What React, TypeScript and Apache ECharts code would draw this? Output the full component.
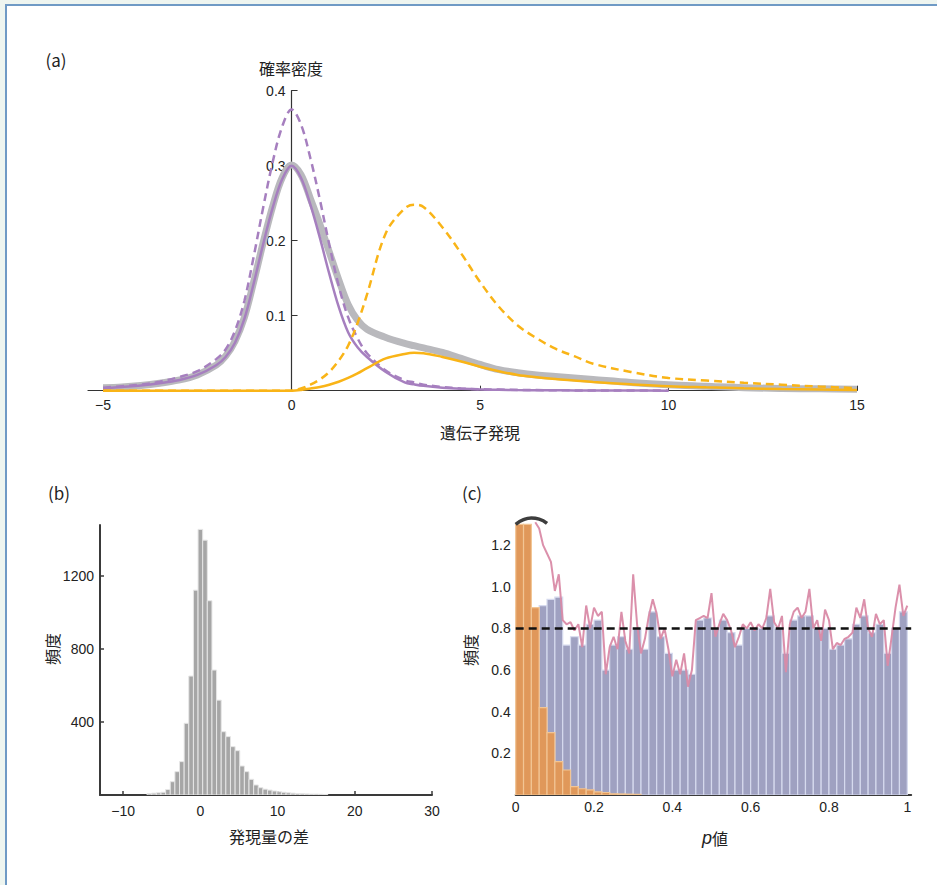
import React, { useEffect, useRef } from "react";
import * as echarts from "echarts";

const NUM_FONT = "'Liberation Sans', Arial, sans-serif";
const JP_FONT = "'Noto Sans CJK JP', 'Noto Sans', sans-serif";
const TXT = "#222";

// ---------- Panel (a): densities ----------
const aX = [-5, -4.5, -4, -3.5, -3, -2.5, -2, -1.75, -1.5, -1.25, -1, -0.75, -0.5, -0.25, 0, 0.25, 0.5, 0.75, 1, 1.25, 1.5, 1.75, 2, 2.5, 3, 3.25, 3.5, 4, 4.5, 5, 5.5, 6, 6.5, 7, 7.5, 8, 9, 10, 11, 12, 13, 14, 15];
const aMixture = [0.004, 0.005, 0.007, 0.01, 0.014, 0.021, 0.034, 0.046, 0.066, 0.098, 0.146, 0.198, 0.246, 0.284, 0.301, 0.288, 0.256, 0.222, 0.185, 0.148, 0.115, 0.094, 0.082, 0.071, 0.063, 0.06, 0.057, 0.051, 0.043, 0.035, 0.028, 0.024, 0.021, 0.019, 0.017, 0.015, 0.011, 0.008, 0.006, 0.004, 0.003, 0.0025, 0.002];
const aNullScaled = [0.003, 0.005, 0.007, 0.01, 0.014, 0.021, 0.034, 0.045, 0.064, 0.096, 0.144, 0.196, 0.244, 0.282, 0.3, 0.284, 0.248, 0.204, 0.156, 0.112, 0.078, 0.058, 0.045, 0.025, 0.011, 0.0085, 0.0065, 0.004, 0.0025, 0.0016, 0.0012, 0.0008, 0.0006, 0.0005, 0.0004, 0.0003, 0.0002, 0.0001, null, null, null, null, null];
const aNullDensity = [0.004, 0.006, 0.008, 0.012, 0.018, 0.026, 0.042, 0.055, 0.08, 0.12, 0.18, 0.245, 0.305, 0.352, 0.375, 0.355, 0.31, 0.255, 0.195, 0.14, 0.098, 0.07, 0.05, 0.027, 0.014, 0.011, 0.008, 0.005, 0.003, 0.002, 0.0015, 0.001, 0.0008, 0.0006, 0.0004, 0.0003, 0.0002, 0.0001, null, null, null, null, null];
const aAltScaled = [0, 0, 0, 0, 0, 0, 0, 0, 0, 0, 0, 0, 0, 0, 0, 0.001, 0.003, 0.005, 0.008, 0.012, 0.017, 0.023, 0.03, 0.043, 0.049, 0.0505, 0.05, 0.045, 0.039, 0.032, 0.026, 0.021, 0.018, 0.0155, 0.0135, 0.0115, 0.0085, 0.006, 0.0045, 0.0032, 0.0022, 0.0015, 0.0008];
const aAltDensity = [0, 0, 0, 0, 0, 0, 0, 0, 0, 0, 0, 0, 0, 0, 0, 0.003, 0.008, 0.015, 0.025, 0.04, 0.06, 0.09, 0.128, 0.21, 0.243, 0.248, 0.245, 0.218, 0.183, 0.145, 0.112, 0.087, 0.07, 0.056, 0.046, 0.036, 0.025, 0.017, 0.0135, 0.0105, 0.008, 0.0055, 0.0035];
const aXTicks = [-5, 0, 5, 10, 15];
const aYTicks = [0.1, 0.2, 0.3, 0.4];

// ---------- Panel (b): histogram of differences ----------
const bCenters = [-6.6, -6.0, -5.4, -4.8, -4.2, -3.6, -3.0, -2.4, -1.8, -1.2, -0.6, 0, 0.6, 1.2, 1.8, 2.4, 3.0, 3.6, 4.2, 4.8, 5.4, 6.0, 6.6, 7.2, 7.8, 8.4, 9.0, 9.6, 10.2, 10.8, 11.4, 12.0, 12.6, 13.2, 13.8, 14.4, 15.0, 15.6, 16.2];
const bCounts = [8, 10, 12, 15, 30, 73, 128, 183, 393, 652, 1123, 1456, 1397, 1065, 685, 520, 347, 320, 265, 243, 159, 128, 86, 55, 40, 32, 27, 22, 18, 15, 12, 10, 8, 7, 6, 5, 5, 4, 3];
const bBinWidth = 0.6;
const bXTicks = [-10, 0, 10, 20, 30];
const bYTicks = [400, 800, 1200];

// ---------- Panel (c): p-value histograms ----------
const cBinCenters = [0.01, 0.03, 0.05, 0.07, 0.09, 0.11, 0.13, 0.15, 0.17, 0.19, 0.21, 0.23, 0.25, 0.27, 0.29, 0.31, 0.33, 0.35, 0.37, 0.39, 0.41, 0.43, 0.45, 0.47, 0.49, 0.51, 0.53, 0.55, 0.57, 0.59, 0.61, 0.63, 0.65, 0.67, 0.69, 0.71, 0.73, 0.75, 0.77, 0.79, 0.81, 0.83, 0.85, 0.87, 0.89, 0.91, 0.93, 0.95, 0.97, 0.99];
const cBinWidth = 0.02;
const cNullFreq = [0.9, 0.9, 0.9, 0.91, 0.94, 0.95, 0.72, 0.76, 0.72, 0.82, 0.84, 0.6, 0.72, 0.76, 0.7, 0.8, 0.7, 0.88, 0.76, 0.68, 0.6, 0.6, 0.58, 0.84, 0.85, 0.8, 0.84, 0.78, 0.72, 0.8, 0.8, 0.8, 0.86, 0.8, 0.68, 0.84, 0.86, 0.86, 0.8, 0.8, 0.7, 0.72, 0.75, 0.82, 0.86, 0.78, 0.82, 0.68, 0.8, 0.88];
const cAltFreq = [1.3, 1.3, 0.9, 0.42, 0.3, 0.16, 0.12, 0.04, 0.03, 0.025, 0.015, 0.012, 0.006, 0.005, 0.004, 0.003, 0, 0, 0, 0, 0, 0, 0, 0, 0, 0, 0, 0, 0, 0, 0, 0, 0, 0, 0, 0, 0, 0, 0, 0, 0, 0, 0, 0, 0, 0, 0, 0, 0, 0];
const cFineP = [0.05, 0.06, 0.07, 0.08, 0.09, 0.1, 0.11, 0.12, 0.13, 0.14, 0.15, 0.16, 0.17, 0.18, 0.19, 0.2, 0.21, 0.22, 0.23, 0.24, 0.25, 0.26, 0.27, 0.28, 0.29, 0.3, 0.31, 0.32, 0.33, 0.34, 0.35, 0.36, 0.37, 0.38, 0.39, 0.4, 0.41, 0.42, 0.43, 0.44, 0.45, 0.46, 0.47, 0.48, 0.49, 0.5, 0.51, 0.52, 0.53, 0.54, 0.55, 0.56, 0.57, 0.58, 0.59, 0.6, 0.61, 0.62, 0.63, 0.64, 0.65, 0.66, 0.67, 0.68, 0.69, 0.7, 0.71, 0.72, 0.73, 0.74, 0.75, 0.76, 0.77, 0.78, 0.79, 0.8, 0.81, 0.82, 0.83, 0.84, 0.85, 0.86, 0.87, 0.88, 0.89, 0.9, 0.91, 0.92, 0.93, 0.94, 0.95, 0.96, 0.97, 0.98, 0.99, 1.0];
const cFineFreq = [1.31, 1.28, 1.2, 1.16, 1.12, 0.98, 1.06, 0.84, 0.82, 0.83, 0.79, 0.82, 0.71, 0.91, 0.8, 0.9, 0.86, 0.88, 0.58, 0.71, 0.76, 0.7, 0.88, 0.74, 0.68, 1.06, 0.82, 0.68, 0.75, 0.86, 0.94, 0.87, 0.75, 0.8, 0.7, 0.57, 0.65, 0.58, 0.68, 0.52, 0.6, 0.84, 0.85, 0.86, 0.85, 0.97, 0.76, 0.82, 0.87, 0.84, 0.79, 0.71, 0.76, 0.82, 0.8, 0.83, 0.79, 0.82, 0.8, 0.85, 0.99, 0.83, 0.8, 0.86, 0.59, 0.82, 0.88, 0.9, 0.85, 0.88, 0.99, 0.8, 0.84, 0.74, 0.89, 0.84, 0.7, 0.73, 0.72, 0.75, 0.76, 0.78, 0.9, 0.85, 0.94, 0.8, 0.76, 0.87, 0.82, 0.84, 0.62, 0.76, 0.9, 1.01, 0.86, 0.91];
const cArcP = [0, 0.02, 0.04, 0.06, 0.08];
const cArcFreq = [1.3, 1.322, 1.33, 1.325, 1.305];
const cRefLevel = 0.8;
const cRefSpan = [0, 1.01];
const cXTicks = [0, 0.2, 0.4, 0.6, 0.8, 1];
const cYTicks = [0.2, 0.4, 0.6, 0.8, 1.0, 1.2];

function zip(xs: number[], ys: (number | null)[]) {
  return xs.map((x, i) => [x, ys[i]]);
}

function histItem(fill: string, stroke: string, lw: number) {
  return (params: any, api: any) => {
    const x0 = api.value(0);
    const x1 = api.value(1);
    const h = api.value(2);
    if (!h) return null;
    const p0 = api.coord([x0, h]);
    const p1 = api.coord([x1, 0]);
    return {
      type: "rect",
      shape: { x: p0[0], y: p0[1], width: p1[0] - p0[0], height: p1[1] - p0[1] },
      style: { fill, stroke, lineWidth: lw },
    };
  };
}

function minusFmt(v: number) {
  return v < 0 ? "\u2212" + Math.abs(v) : String(v);
}

function buildOption() {
  const axisLabelBase = { color: TXT, fontFamily: NUM_FONT, fontSize: 14 };
  const bData = bCenters.map((c, i) => [c - bBinWidth / 2, c + bBinWidth / 2, bCounts[i]]);
  const cNullData = cBinCenters.map((c, i) => [c - cBinWidth / 2, c + cBinWidth / 2, cNullFreq[i]]);
  const cAltData = cBinCenters.map((c, i) => [c - cBinWidth / 2, c + cBinWidth / 2, cAltFreq[i]]);

  const lineBase = { type: "line", showSymbol: false, symbol: "none", silent: true, animation: false };

  const aLeft = 88;
  const aWidth = 769;
  const aMin = -5.4;
  const aMax = 15;
  const aZeroOffset = ((0 - aMin) / (aMax - aMin)) * aWidth;

  return {
    animation: false,
    backgroundColor: "#eef5f0",
    grid: [
      { left: aLeft, top: 90.7, width: aWidth, height: 300 },
      { left: 100, top: 525, width: 332, height: 270 },
      { left: 515.7, top: 516, width: 395.5, height: 279 },
    ],
    xAxis: [
      {
        gridIndex: 0, type: "value", min: aMin, max: aMax,
        axisLine: { lineStyle: { color: "#333", width: 1.2 } },
        axisTick: { inside: true, length: 5, customValues: aXTicks, lineStyle: { color: "#333" } },
        axisLabel: { ...axisLabelBase, margin: 7, customValues: aXTicks, formatter: minusFmt },
        splitLine: { show: false },
      },
      {
        gridIndex: 1, type: "value", min: -13, max: 30,
        axisLine: { onZero: false, lineStyle: { color: "#3a3a3a", width: 2 } },
        axisTick: { inside: true, length: 4, customValues: bXTicks, lineStyle: { color: "#3a3a3a", width: 1.5 } },
        axisLabel: { ...axisLabelBase, margin: 9, customValues: bXTicks, formatter: minusFmt },
        splitLine: { show: false },
      },
      {
        gridIndex: 2, type: "value", min: 0, max: 1.01,
        axisLine: { onZero: false, lineStyle: { color: "#3a3a3a", width: 2 } },
        axisTick: { show: false },
        axisLabel: { ...axisLabelBase, margin: 5, customValues: cXTicks },
        splitLine: { show: false },
      },
    ],
    yAxis: [
      {
        gridIndex: 0, type: "value", min: 0, max: 0.4, position: "left", offset: -aZeroOffset,
        axisLine: { show: true, onZero: false, lineStyle: { color: "#333", width: 1.2 } },
        axisTick: { show: true, inside: true, length: 6, customValues: aYTicks, lineStyle: { color: "#333" } },
        axisLabel: { ...axisLabelBase, margin: 6, customValues: aYTicks, formatter: (v: number) => v.toFixed(1) },
        splitLine: { show: false },
      },
      {
        gridIndex: 1, type: "value", min: 0, max: 1480,
        axisLine: { show: true, onZero: false, lineStyle: { color: "#3a3a3a", width: 2 } },
        axisTick: { show: true, inside: true, length: 4, customValues: bYTicks, lineStyle: { color: "#3a3a3a", width: 1.5 } },
        axisLabel: { ...axisLabelBase, margin: 6, customValues: bYTicks, formatter: (v: number) => String(v) },
        splitLine: { show: false },
      },
      {
        gridIndex: 2, type: "value", min: 0, max: 1.34,
        axisLine: { show: false },
        axisTick: { show: false },
        axisLabel: { ...axisLabelBase, margin: 5, customValues: cYTicks, formatter: (v: number) => v.toFixed(1) },
        splitLine: { show: false },
      },
    ],
    series: [
      // (a)
      { ...lineBase, name: "mixture", xAxisIndex: 0, yAxisIndex: 0, smooth: 0.35, data: zip(aX, aMixture), lineStyle: { color: "#b9b9bd", width: 7 }, z: 2 },
      { ...lineBase, name: "null scaled", xAxisIndex: 0, yAxisIndex: 0, smooth: 0.35, data: zip(aX, aNullScaled), lineStyle: { color: "#a67fbf", width: 2.5 }, z: 3 },
      { ...lineBase, name: "null density", xAxisIndex: 0, yAxisIndex: 0, smooth: 0.35, data: zip(aX, aNullDensity), lineStyle: { color: "#a67fbf", width: 2.5, type: [8, 5] }, z: 3 },
      { ...lineBase, name: "alt scaled", xAxisIndex: 0, yAxisIndex: 0, smooth: 0.35, data: zip(aX, aAltScaled), lineStyle: { color: "#f9b417", width: 2.5 }, z: 4 },
      { ...lineBase, name: "alt density", xAxisIndex: 0, yAxisIndex: 0, smooth: 0.35, data: zip(aX, aAltDensity), lineStyle: { color: "#f9b417", width: 2.5, type: [8, 5] }, z: 4 },
      // (b)
      {
        type: "custom", name: "diff hist", xAxisIndex: 1, yAxisIndex: 1, clip: true, silent: true,
        renderItem: histItem("#a6a6a6", "#e6e6e6", 1),
        encode: { x: [0, 1], y: 2 }, data: bData, z: 2,
      },
      // (c)
      {
        type: "custom", name: "null p", xAxisIndex: 2, yAxisIndex: 2, clip: true, silent: true,
        renderItem: histItem("#9fa1c1", "#d6daee", 1.2),
        encode: { x: [0, 1], y: 2 }, data: cNullData, z: 2,
      },
      {
        type: "custom", name: "alt p", xAxisIndex: 2, yAxisIndex: 2, clip: true, silent: true,
        renderItem: histItem("#e0985a", "#f2c594", 1.2),
        encode: { x: [0, 1], y: 2 }, data: cAltData, z: 3,
      },
      { ...lineBase, name: "fine", xAxisIndex: 2, yAxisIndex: 2, data: zip(cFineP, cFineFreq), lineStyle: { color: "#d98aa7", width: 2, opacity: 0.95 }, z: 4 },
      { ...lineBase, name: "ref", xAxisIndex: 2, yAxisIndex: 2, data: cRefSpan.map((p) => [p, cRefLevel]), lineStyle: { color: "#111", width: 2.5, type: [8, 5] }, z: 5 },
      { ...lineBase, name: "arc", xAxisIndex: 2, yAxisIndex: 2, smooth: 0.5, data: zip(cArcP, cArcFreq), lineStyle: { color: "#3d3d3d", width: 3.5 }, z: 6 },
    ],
    graphic: [
      { type: "rect", z: -10, silent: true, shape: { x: 6, y: 5, width: 945, height: 895 }, style: { fill: "#ffffff", stroke: "#6f9ac5", lineWidth: 2 } },
      { type: "text", x: 56, y: 59, silent: true, style: { text: "(a)", fill: TXT, fontFamily: JP_FONT, fontSize: 17, align: "center", verticalAlign: "middle" } },
      { type: "text", x: 59, y: 492, silent: true, style: { text: "(b)", fill: TXT, fontFamily: JP_FONT, fontSize: 17, align: "center", verticalAlign: "middle" } },
      { type: "text", x: 472, y: 492, silent: true, style: { text: "(c)", fill: TXT, fontFamily: JP_FONT, fontSize: 17, align: "center", verticalAlign: "middle" } },
      { type: "text", x: 291, y: 68, silent: true, style: { text: "確率密度", fill: TXT, fontFamily: JP_FONT, fontSize: 16, align: "center", verticalAlign: "middle" } },
      { type: "text", x: 480, y: 432, silent: true, style: { text: "遺伝子発現", fill: TXT, fontFamily: JP_FONT, fontSize: 16, align: "center", verticalAlign: "middle" } },
      { type: "text", x: 52, y: 649, rotation: Math.PI / 2, silent: true, style: { text: "頻度", fill: TXT, fontFamily: JP_FONT, fontSize: 16, align: "center", verticalAlign: "middle" } },
      { type: "text", x: 269, y: 836, silent: true, style: { text: "発現量の差", fill: TXT, fontFamily: JP_FONT, fontSize: 16, align: "center", verticalAlign: "middle" } },
      { type: "text", x: 470, y: 650, rotation: Math.PI / 2, silent: true, style: { text: "頻度", fill: TXT, fontFamily: JP_FONT, fontSize: 16, align: "center", verticalAlign: "middle" } },
      {
        type: "text", x: 715, y: 838, silent: true,
        style: {
          text: "{i|p}{n|値}", align: "center", verticalAlign: "middle",
          rich: {
            i: { fontStyle: "italic", fontFamily: NUM_FONT, fontSize: 18, fill: TXT },
            n: { fontFamily: JP_FONT, fontSize: 16, fill: TXT },
          },
        },
      },
    ],
  };
}

export default function App() {
  const ref = useRef<HTMLDivElement>(null);
  useEffect(() => {
    const chart = echarts.init(ref.current as HTMLDivElement, null, { renderer: "svg" });
    chart.setOption(buildOption() as any);
    return () => chart.dispose();
  }, []);
  return <div ref={ref} style={{ position: "fixed", left: 0, top: 0, width: 937, height: 885 }} />;
}
